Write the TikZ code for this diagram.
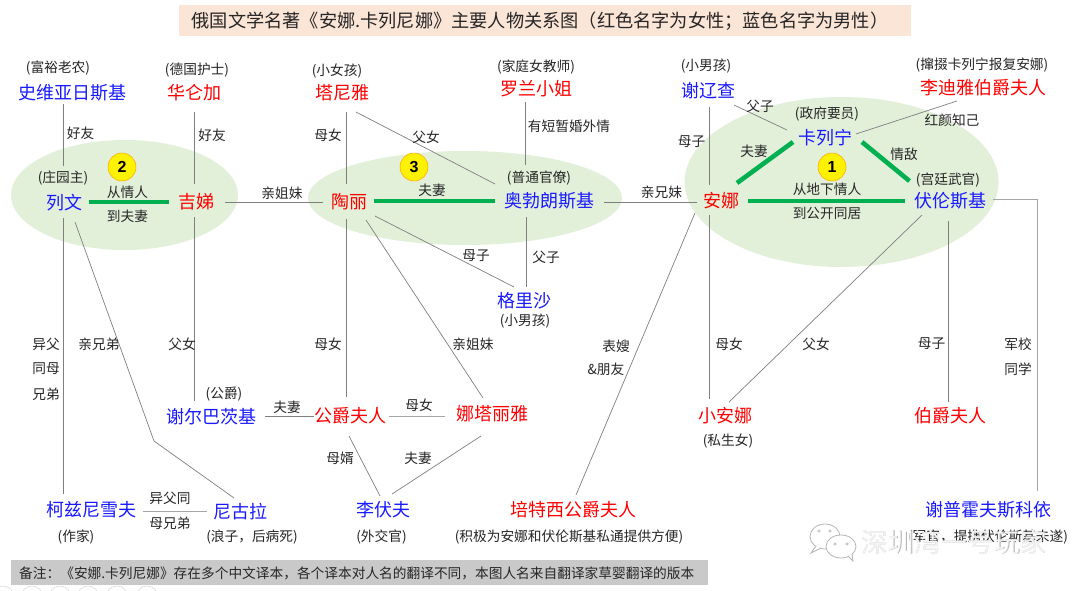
\documentclass[tikz,border=0pt]{standalone}
\usepackage{fontspec}
\setmainfont{Noto Sans CJK SC}
\newfontfamily\digitfont{Liberation Sans}
\usetikzlibrary{shapes.geometric}
\definecolor{namered}{HTML}{FF0000}
\definecolor{nameblue}{HTML}{1A1AFF}
\definecolor{blob}{HTML}{E2EFD9}
\definecolor{lnk}{HTML}{7F7F7F}
\definecolor{softlnk}{HTML}{A6A6A6}
\definecolor{strong}{HTML}{00B050}
\definecolor{titlefill}{HTML}{FBE5D6}
\definecolor{notefill}{HTML}{C9C9C9}
\definecolor{wmgray}{HTML}{B4B4B4}
\tikzset{
  x=1pt,y=-1pt,
  female/.style={inner sep=0pt,text=namered,font=\fontsize{18}{20}\selectfont},
  male/.style={inner sep=0pt,text=nameblue,font=\fontsize{18}{20}\selectfont},
  lab/.style={inner sep=0pt,text=black!85,font=\fontsize{13.7}{16}\selectfont},
  link/.style={draw=lnk,line width=0.7pt},
  softlink/.style={draw=softlnk,line width=1pt},
  biglink/.style={draw=strong,line width=4.6pt},
  blobby/.style={ellipse,fill=blob,draw=none,inner sep=0pt},
  badge/.style={circle,fill=yellow,draw=orange!70!yellow,line width=0.5pt,minimum size=28pt,inner sep=0pt,font=\digitfont\bfseries\fontsize{16}{18}\selectfont},
  wm/.style={inner sep=0pt,font=\fontsize{26.5}{28}\selectfont},
  bubble/.style={draw=wmgray,line width=0.8pt,fill=white},
}
\begin{document}
\begin{tikzpicture}
\useasboundingbox (0,0) rectangle (1080,590);
\fill[white] (0,0) rectangle (1080,590);
% backgrounds
\node[fill=titlefill,minimum width=732pt,minimum height=31pt,inner sep=0pt] (titlebar) at (545,20.5) {};
\node[fill=notefill,minimum width=697pt,minimum height=25pt,inner sep=0pt] (notebar) at (359.5,572.5) {};
\node[blobby,minimum width=227pt,minimum height=110pt] (e2) at (124.5,195) {};
\node[blobby,minimum width=314pt,minimum height=94pt] (e3) at (465,198) {};
\node[blobby,minimum width=314pt,minimum height=170pt] (e1) at (841.6,182) {};
% names
\node[male] (shi) at (72.5,93) {史维亚日斯基};
\node[female] (hua) at (194,93) {华仑加};
\node[female] (ta) at (342.5,93) {塔尼雅};
\node[female] (luo) at (536.5,89) {罗兰小姐};
\node[male] (xie) at (708,91) {谢辽查};
\node[female] (li) at (983,88) {李迪雅伯爵夫人};
\node[male] (kar) at (825,138) {卡列宁};
\node[male] (lw) at (64,203) {列文};
\node[female] (ji) at (196,202) {吉娣};
\node[female] (tao) at (349,202) {陶丽};
\node[male] (ao) at (549,201) {奥勃朗斯基};
\node[female] (an) at (721,201) {安娜};
\node[male] (fu) at (950,201) {伏伦斯基};
\node[male] (ge) at (524,301) {格里沙};
\node[male] (sb) at (211.5,417) {谢尔巴茨基};
\node[female] (gf) at (350,416) {公爵夫人};
\node[female] (nt) at (492,414) {娜塔丽雅};
\node[female] (xa) at (725,416) {小安娜};
\node[female] (bf) at (950,416) {伯爵夫人};
\node[male] (ke) at (91,510) {柯兹尼雪夫};
\node[male] (ni) at (240,512) {尼古拉};
\node[male] (lf) at (383,510) {李伏夫};
\node[female] (pt) at (573,510) {培特西公爵夫人};
\node[male] (sp) at (988,510) {谢普霍夫斯科依};
% thin connectors
\coordinate (bendni) at (154,441);
\coordinate (bendsp) at (1037,199);
\draw[link] ([shift={(-9,11)}]shi.center) -- ([shift={(-0.6,-37)}]lw.center);
\draw[link] ([shift={(0.5,19)}]hua.center) -- ([shift={(-1.5,-18)}]ji.center);
\draw[link] ([shift={(3.5,19)}]ta.center) -- ([shift={(-3,-18)}]tao.center);
\draw[link] ([shift={(13.5,19)}]ta.center) -- ([shift={(-54,-17)}]ao.center);
\draw[link] ([shift={(-11,13)}]luo.center) -- ([shift={(-23.5,-36)}]ao.center);
\draw[link] ([shift={(29,0)}]ji.center) -- ([shift={(-26,0)}]tao.center);
\draw[link] ([shift={(55,1)}]ao.center) -- ([shift={(-24,1)}]an.center);
\draw[link] ([shift={(1.4,16)}]xie.center) -- ([shift={(-11.6,-16)}]an.center);
\draw[link] ([shift={(26,14)}]xie.center) -- ([shift={(-38,-8)}]kar.center);
\draw[link] ([shift={(-26,13)}]li.center) -- ([shift={(31,-4)}]kar.center);
\draw[link] ([shift={(-0.6,15)}]lw.center) -- ([shift={(-27.6,-16)}]ke.center);
\draw[link] ([shift={(11,19)}]lw.center) -- (bendni) -- ([shift={(-6,-14)}]ni.center);
\draw[link] ([shift={(-1.5,15)}]ji.center) -- ([shift={(-17,-16)}]sb.center);
\draw[link] ([shift={(-3,17)}]tao.center) -- ([shift={(-4,-19)}]gf.center);
\draw[link] ([shift={(17,18)}]tao.center) -- ([shift={(-9,-16)}]nt.center);
\draw[link] ([shift={(26,14)}]tao.center) -- ([shift={(-10,-14)}]ge.center);
\draw[link] ([shift={(-23,16)}]ao.center) -- ([shift={(2,-14)}]ge.center);
\draw[link] ([shift={(-26,12)}]an.center) -- ([shift={(3,-15)}]pt.center);
\draw[link] ([shift={(-11.6,14)}]an.center) -- ([shift={(-15.6,-17)}]xa.center);
\draw[link] ([shift={(-28,14)}]fu.center) -- ([shift={(4,-14)}]xa.center);
\draw[link] ([shift={(-2,20)}]fu.center) -- ([shift={(-2,-14)}]bf.center);
\draw[softlink] ([shift={(42.5,-2)}]fu.center) -- (bendsp) -- ([shift={(49,-19)}]sp.center);
\draw[link] ([shift={(53.5,-1)}]sb.center) -- ([shift={(-36,0)}]gf.center);
\draw[softlink] ([shift={(39,0)}]gf.center) -- ([shift={(-47,2)}]nt.center);
\draw[softlink] ([shift={(52,1)}]ke.center) -- ([shift={(-33,-1)}]ni.center);
\draw[link] ([shift={(-1,20)}]gf.center) -- ([shift={(-3,-14)}]lf.center);
\draw[link] ([shift={(-11,22)}]nt.center) -- ([shift={(9,-16)}]lf.center);
% heavy connectors
\draw[biglink] ([shift={(25,-1)}]lw.center) -- ([shift={(-27,0)}]ji.center);
\draw[biglink] ([shift={(25,-1)}]tao.center) -- ([shift={(-54,0)}]ao.center);
\draw[biglink] ([shift={(27,0)}]an.center) -- ([shift={(-45,0)}]fu.center);
\draw[biglink] ([shift={(-32,4)}]kar.center) -- ([shift={(16,-18)}]an.center);
\draw[biglink] ([shift={(37,4)}]kar.center) -- ([shift={(-40.5,-20)}]fu.center);
% badges
\node[badge] (b2) at (122,167) {2};
\node[badge] (b3) at (414,167) {3};
\node[badge] (b1) at (832,167) {1};
% notes under/over names
\node[lab] (n1) at (58,68) {(富裕老农)};
\node[lab] (n2) at (197,70) {(德国护士)};
\node[lab] (n3) at (337,71) {(小女孩)};
\node[lab] (n4) at (536,67) {(家庭女教师)};
\node[lab] (n5) at (706,66) {(小男孩)};
\node[lab] (n6) at (982,65) {(撺掇卡列宁报复安娜)};
\node[lab] (n7) at (827,114) {(政府要员)};
\node[lab] (n8) at (63,178) {(庄园主)};
\node[lab] (n9) at (539,178) {(普通官僚)};
\node[lab] (n10) at (948,180) {(宫廷武官)};
\node[lab] (n11) at (525,321) {(小男孩)};
\node[lab] (n12) at (224,394) {(公爵)};
\node[lab] (n13) at (728,441) {(私生女)};
\node[lab] (n14) at (76,537) {(作家)};
\node[lab] (n15) at (252,537) {(浪子，后病死)};
\node[lab] (n16) at (381.5,537) {(外交官)};
\node[lab] (n17) at (569,537) {(积极为安娜和伏伦斯基私通提供方便)};
\node[lab] (n18) at (988,537) {(军官，提携伏伦斯基未遂)};
% connector labels
\node[lab] (l1) at (80.5,133) {好友};
\node[lab] (l2) at (212,135) {好友};
\node[lab] (l3) at (328,135) {母女};
\node[lab] (l4) at (426,137) {父女};
\node[lab] (l5) at (569,126) {有短暂婚外情};
\node[lab] (l6) at (760,106) {父子};
\node[lab] (l7) at (952,120) {红颜知己};
\node[lab] (l8) at (691.5,142) {母子};
\node[lab] (l9) at (754,151) {夫妻};
\node[lab] (l10) at (904,154) {情敌};
\node[lab] (l11) at (827,189) {从地下情人};
\node[lab] (l12) at (827,213) {到公开同居};
\node[lab] (l13) at (127.5,192) {从情人};
\node[lab] (l14) at (127.5,216.5) {到夫妻};
\node[lab] (l15) at (282,193) {亲姐妹};
\node[lab] (l16) at (432,190) {夫妻};
\node[lab] (l17) at (661.5,192) {亲兄妹};
\node[lab] (l18) at (476,256) {母子};
\node[lab] (l19) at (546,257) {父子};
\node[lab] (l20) at (46,344) {异父};
\node[lab] (l21) at (46,369) {同母};
\node[lab] (l22) at (46,394) {兄弟};
\node[lab] (l23) at (99,344) {亲兄弟};
\node[lab] (l24) at (182,344) {父女};
\node[lab] (l25) at (328,344) {母女};
\node[lab] (l26) at (473,344) {亲姐妹};
\node[lab] (l27) at (287,407) {夫妻};
\node[lab] (l28) at (419,405) {母女};
\node[lab] (l29) at (340,458) {母婿};
\node[lab] (l30) at (418,458) {夫妻};
\node[lab] (l31) at (170,498) {异父同};
\node[lab] (l32) at (170,523) {母兄弟};
\node[lab] (l33) at (616,346) {表嫂};
\node[lab] (l34) at (606,369) {\&朋友};
\node[lab] (l35) at (729,344) {母女};
\node[lab] (l36) at (816,344) {父女};
\node[lab] (l37) at (931.5,344) {母子};
\node[lab] (l38) at (1018,344) {军校};
\node[lab] (l39) at (1018,369) {同学};
% title and footnote
\node[inner sep=0pt,text=black!85,font=\fontsize{18.2}{20}\selectfont] (title) at (540,21) {俄国文学名著《安娜.卡列尼娜》主要人物关系图（红色名字为女性；蓝色名字为男性）};
\node[lab,anchor=west] (foot) at (19,573) {备注：《安娜.卡列尼娜》存在多个中文译本，各个译本对人名的翻译不同，本图人名来自翻译家草婴翻译的版本};
% watermark: embossed grey edge under a white body, hiding what lies below
\node[wm,text=wmgray] (wmshade) at (954.7,542.7) {深圳湾一号玩家};
\node[wm,text=white,opacity=0.85] (wmtext) at (954,542) {深圳湾一号玩家};
\draw[bubble] (825,536.5) ellipse [x radius=15,y radius=12.5];
\draw[bubble] (816,546) -- (811,553) -- (821,548);
\draw[bubble] (841,546.5) ellipse [x radius=15,y radius=11.5];
\draw[bubble] (848,556) -- (853,561) -- (852,554);
\draw[wmgray,line width=0.5pt] (819,531) circle (1.3) (830,531) circle (1.3) (835,544) circle (1.3) (847,544) circle (1.3);
% cut-off circles along the bottom edge
\begin{scope}
\clip (0,585) rectangle (1080,590);
\foreach \cx in {3,32,60,88,117,147}
  \draw[gray!30,line width=0.6pt] (\cx,597) circle (11);
\end{scope}
\end{tikzpicture}
\end{document}
